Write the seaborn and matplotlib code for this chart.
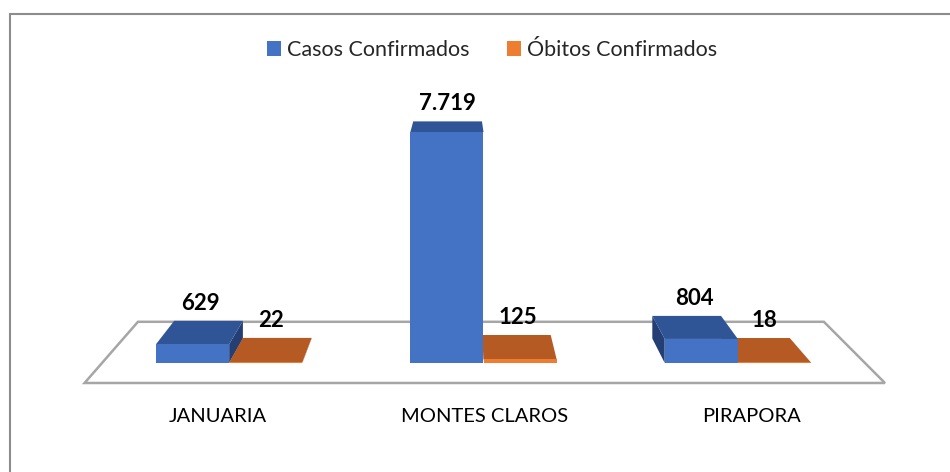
import numpy as np
import pandas as pd
import matplotlib
matplotlib.use("Agg")
import matplotlib.pyplot as plt
from matplotlib.patches import Polygon, Patch
from matplotlib.lines import Line2D
from matplotlib.transforms import IdentityTransform
import seaborn as sns

# dados
cidades = ["JANUARIA", "MONTES CLAROS", "PIRAPORA"]
series = ["Casos Confirmados", "Óbitos Confirmados"]
casos = [629, 7719, 804]
obitos = [22, 125, 18]
rotulos_casos = ["629", "7.719", "804"]
rotulos_obitos = ["22", "125", "18"]

df = pd.DataFrame({
    "Cidade": cidades * 2,
    "Serie": [series[0]] * 3 + [series[1]] * 3,
    "Valor": casos + obitos,
})

cores = {series[0]: "#4472C4", series[1]: "#ED7D31"}
cores_topo = {series[0]: "#2F5597", series[1]: "#B55A22"}
cores_lado = {series[0]: "#243F73", series[1]: "#8F4518"}

sns.set_theme(style="white")
plt.rcParams["font.family"] = ["Lato", "DejaVu Sans"]

W, H = 950, 472
fig = plt.figure(figsize=(W / 100, H / 100), dpi=100)
ax = fig.add_axes([102 / W, 109 / H, 763 / W, 239.4 / H])
sns.barplot(data=df, x="Cidade", y="Valor", hue="Serie", palette=cores,
            width=0.575, saturation=1, errorbar=None, legend=False, ax=ax)
ax.set_xlim(-0.5, 2.5)
ax.set_ylim(0, 8000)
ax.axis("off")

# perspectiva (ponto de fuga em pixels)
VP = np.array([458.0, H + 45.0])
S_FUNDO = 0.94
S_PISO_FRENTE, S_PISO_TRAS = 1.049, 0.899
ident = IdentityTransform()


def proj(p, s):
    return VP + s * (np.asarray(p, float) - VP)


# piso
x_esq, y_base = ax.transData.transform((-0.5, 0))
x_dir, _ = ax.transData.transform((2.5, 0))
piso = [proj((x_esq, y_base), S_PISO_FRENTE), proj((x_dir, y_base), S_PISO_FRENTE),
        proj((x_dir, y_base), S_PISO_TRAS), proj((x_esq, y_base), S_PISO_TRAS)]
ax.add_patch(Polygon(piso, closed=True, facecolor="white", edgecolor="#A6A6A6",
                     lw=1.8, transform=ident, clip_on=False, zorder=1))

# faces 3D das barras
barras = []
for serie, cont, rot in zip(series, ax.containers, [rotulos_casos, rotulos_obitos]):
    for bar, r in zip(cont, rot):
        x0, y0 = ax.transData.transform((bar.get_x(), 0))
        x1, y1 = ax.transData.transform((bar.get_x() + bar.get_width(), bar.get_height()))
        barras.append((bar, serie, r, x0, x1, y0, y1))

barras.sort(key=lambda b: -abs((b[3] + b[4]) / 2 - VP[0]))
for k, (bar, serie, r, x0, x1, y0, y1) in enumerate(barras):
    z = 2 + k * 0.1
    fl_b, fr_b, fr_t, fl_t = (x0, y0), (x1, y0), (x1, y1), (x0, y1)
    bl_b, br_b, br_t, bl_t = [proj(p, S_FUNDO) for p in (fl_b, fr_b, fr_t, fl_t)]
    if x1 < VP[0]:
        lado = [fr_b, fr_t, br_t, br_b]
    elif x0 > VP[0]:
        lado = [fl_b, fl_t, bl_t, bl_b]
    else:
        lado = None
    if lado is not None:
        ax.add_patch(Polygon(lado, closed=True, facecolor=cores_lado[serie], lw=0,
                             transform=ident, clip_on=False, zorder=z))
    ax.add_patch(Polygon([fl_t, fr_t, br_t, bl_t], closed=True, facecolor=cores_topo[serie],
                         lw=0, transform=ident, clip_on=False, zorder=z + 0.01))
    bar.set_zorder(z + 0.02)
    bar.set_linewidth(0)
    cx = (x0 + x1 + bl_t[0] + br_t[0]) / 4
    ax.text(cx, bl_t[1] + 7, r, transform=ident, ha="center", va="bottom",
            fontsize=16, fontweight="bold", color="black", zorder=10)

# rótulos das cidades
for i, c in enumerate(cidades):
    xc, _ = ax.transData.transform((i, 0))
    xl = VP[0] + S_PISO_FRENTE * (xc - VP[0])
    ax.text(xl, 56, c, transform=ident, ha="center", va="center",
            fontsize=14.5, color="black")

# legenda
alcas = [Patch(facecolor=cores[s], edgecolor="none") for s in series]
fig.legend(alcas, series, loc="center", bbox_to_anchor=(492 / W, 422 / H), ncol=2,
           frameon=False, fontsize=15.5, handlelength=0.65, handleheight=0.65,
           handletextpad=0.28, columnspacing=1.77)

# moldura
fig.add_artist(Line2D([9.5 / W, 1], [1 - 13.5 / H] * 2, transform=fig.transFigure,
                      color="#8C8C8C", lw=1.5))
fig.add_artist(Line2D([9.5 / W] * 2, [0, 1 - 13.5 / H], transform=fig.transFigure,
                      color="#8C8C8C", lw=1.5))

fig.savefig("out.png", dpi=100, facecolor="white")
